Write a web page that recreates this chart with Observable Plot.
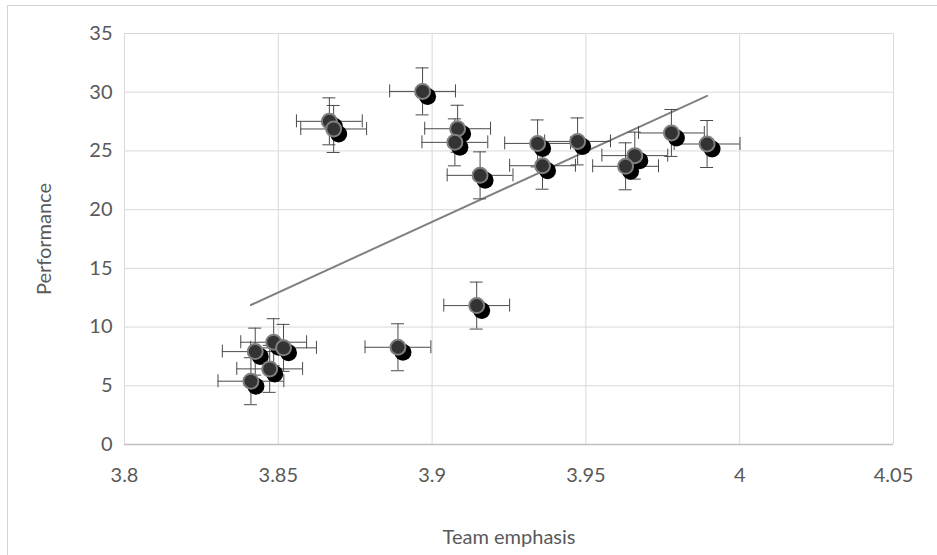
<!DOCTYPE html>
<html>
<head>
<meta charset="utf-8">
<script src="https://cdn.jsdelivr.net/npm/d3@7"></script>
<script src="https://cdn.jsdelivr.net/npm/@observablehq/plot@0.6"></script>
<style>
  html, body { margin: 0; padding: 0; background: #fff; overflow: hidden; }
  #wrap { position: relative; width: 937px; height: 555px; }
  #border { position: absolute; left: 7px; top: 5px; width: 960px; height: 580px; border: 1.5px solid #d4d4d4; box-sizing: border-box; pointer-events: none; }
  #chart { position: absolute; left: 0; top: 0; }
</style>
</head>
<body>
<div id="wrap"><div id="border"></div><div id="chart"></div></div>
<script>
// Team emphasis (x) and Performance (y) per team
const teamEmphasis = [3.8411, 3.8425, 3.8485, 3.8517, 3.8472, 3.8889, 3.8666, 3.8680, 3.8969, 3.9083,
                      3.9074, 3.9156, 3.9145, 3.9343, 3.9359, 3.9473, 3.9659, 3.9629, 3.9778, 3.9894];
const performance  = [5.39, 7.91, 8.71, 8.23, 6.44, 8.28, 27.52, 26.87, 30.07, 26.89,
                      25.73, 22.92, 11.83, 25.64, 23.74, 25.81, 24.60, 23.69, 26.53, 25.59];
// error bar half-widths
const xError = [0.0107, 0.0107, 0.0107, 0.0107, 0.0107, 0.0107, 0.0107, 0.0107, 0.0107, 0.0107,
                0.0107, 0.0107, 0.0107, 0.0107, 0.0107, 0.0107, 0.0107, 0.0107, 0.0107, 0.0107];
const yError = [2, 2, 2, 2, 2, 2, 2, 2, 2, 2, 2, 2, 2, 2, 2, 2, 2, 2, 2, 2];
const xTicks = [3.8, 3.85, 3.9, 3.95, 4, 4.05];
const yTicks = [0, 5, 10, 15, 20, 25, 30, 35];

const pts = teamEmphasis.map((x, i) => ({x, y: performance[i], ex: xError[i], ey: yError[i]}));

const barColor = "#4a4a4a";
const capHalf = 6.5;
const font = "Lato, 'Open Sans', sans-serif";

const chart = Plot.plot({
  width: 937,
  height: 555,
  marginLeft: 124,
  marginRight: 44,
  marginTop: 33,
  marginBottom: 111,
  style: {fontFamily: font, fontSize: "20px", color: "#595959", background: "transparent", overflow: "visible"},
  x: {domain: [3.8, 4.05]},
  y: {domain: [0, 35]},
  marks: [
    Plot.gridX(xTicks, {stroke: "#d9d9d9", strokeOpacity: 1}),
    Plot.gridY(yTicks, {stroke: "#d9d9d9", strokeOpacity: 1}),
    Plot.ruleY([0], {stroke: "#bfbfbf", strokeWidth: 1.5}),
    Plot.axisX(xTicks, {tickSize: 0, tickPadding: 23, tickFormat: d => String(d), fill: "#595959",
      fontSize: 20, fontFamily: font,
      label: "Team emphasis", labelAnchor: "center", labelArrow: "none", labelOffset: 99}),
    Plot.axisY(yTicks, {tickSize: 0, tickPadding: 12, fill: "#595959",
      fontSize: 20, fontFamily: font,
      label: "Performance", labelAnchor: "center", labelArrow: "none", labelOffset: 88}),
    // trend line
    Plot.linearRegressionY(pts, {x: "x", y: "y", stroke: "#808080", strokeWidth: 2, ci: 0}),
    // horizontal error bars
    Plot.ruleY(pts, {y: "y", x1: d => d.x - d.ex, x2: d => d.x + d.ex, stroke: barColor, strokeWidth: 1}),
    Plot.ruleX(pts, {x: d => d.x - d.ex, y1: "y", y2: "y", insetTop: -capHalf, insetBottom: -capHalf, stroke: barColor}),
    Plot.ruleX(pts, {x: d => d.x + d.ex, y1: "y", y2: "y", insetTop: -capHalf, insetBottom: -capHalf, stroke: barColor}),
    // vertical error bars
    Plot.ruleX(pts, {x: "x", y1: d => d.y - d.ey, y2: d => d.y + d.ey, stroke: barColor, strokeWidth: 1}),
    Plot.ruleY(pts, {y: d => d.y - d.ey, x1: "x", x2: "x", insetLeft: -capHalf, insetRight: -capHalf, stroke: barColor}),
    Plot.ruleY(pts, {y: d => d.y + d.ey, x1: "x", x2: "x", insetLeft: -capHalf, insetRight: -capHalf, stroke: barColor}),
    // shadows
    Plot.dot(pts, {x: "x", y: "y", r: 8.5, dx: 5, dy: 5, fill: "#000", stroke: "none"}),
    // markers
    Plot.dot(pts, {x: "x", y: "y", r: 7.5, fill: "#333333", stroke: "#7f7f7f", strokeWidth: 2})
  ]
});
document.getElementById("chart").appendChild(chart);
</script>
</body>
</html>
